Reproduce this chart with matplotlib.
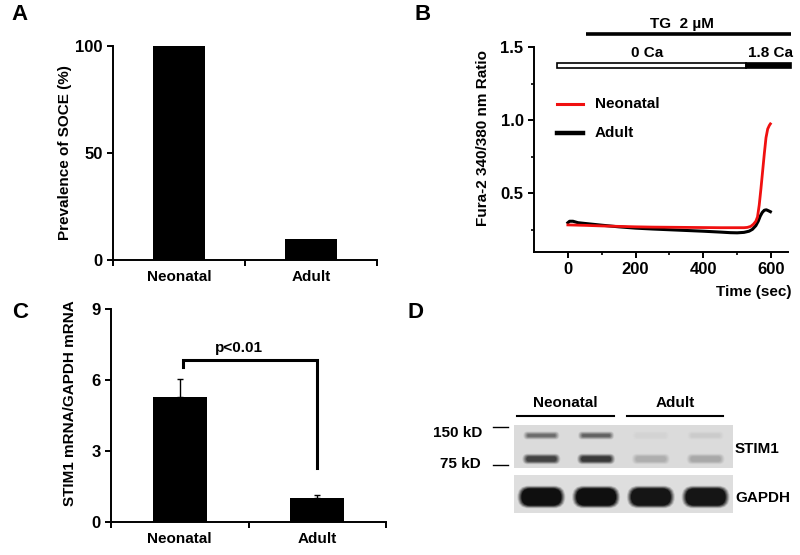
import numpy as np
import matplotlib
matplotlib.use('Agg')
from matplotlib import pyplot as plt
from matplotlib.patches import Rectangle, FancyBboxPatch

# panel A
groups = ['Neonatal', 'Adult']
soce_prev = [100, 10]

# panel B, Fura-2 ratio traces
t_neo = [0, 50, 100, 150, 200, 250, 300, 350, 400, 450, 500, 520, 530, 540, 548, 555,
         560, 565, 570, 575, 580, 585, 590, 595, 598]
ratio_neo = [0.285, 0.282, 0.278, 0.275, 0.272, 0.270, 0.269, 0.268, 0.267, 0.266, 0.266,
             0.266, 0.268, 0.275, 0.29, 0.31, 0.34, 0.42, 0.53, 0.65, 0.77, 0.88, 0.94, 0.965, 0.975]
t_adult = [0, 5, 15, 30, 50, 100, 150, 200, 250, 300, 350, 400, 450, 480, 500, 520, 535,
           545, 555, 562, 568, 574, 580, 586, 592, 598]
ratio_adult = [0.30, 0.31, 0.31, 0.30, 0.295, 0.283, 0.272, 0.263, 0.257, 0.252, 0.247, 0.242,
               0.236, 0.232, 0.231, 0.234, 0.242, 0.255, 0.28, 0.31, 0.345, 0.37, 0.385,
               0.388, 0.382, 0.375]

# panel C
stim1_mrna = [5.3, 1.0]
stim1_err = [0.75, 0.15]

# panel D, band darkness per lane (0 = none, 1 = saturated)
lane_groups = ['Neonatal', 'Neonatal', 'Adult', 'Adult']
stim1_150 = [0.55, 0.6, 0.04, 0.08]
stim1_75 = [0.75, 0.8, 0.22, 0.25]
gapdh = [1.0, 1.0, 0.97, 0.97]

plt.rcParams['font.family'] = ['Liberation Sans', 'DejaVu Sans']
plt.rcParams['font.weight'] = 'bold'
plt.rcParams['axes.labelweight'] = 'bold'
plt.rcParams['axes.linewidth'] = 1.4

W, H = 800, 555
FS = 11      # general text
TFS = 12     # numeric tick labels
fig = plt.figure(figsize=(8, 5.55), dpi=100)


def px_rect(l, t, r, b):
    return [l / W, 1 - b / H, (r - l) / W, (b - t) / H]


def style_bar_axes(ax):
    for s in ['top', 'right']:
        ax.spines[s].set_visible(False)
    ax.set_xlim(0, 2)
    ax.set_xticks([0, 1, 2])
    ax.set_xticklabels([])
    ax.set_xticks([0.5, 1.5], minor=True)
    ax.set_xticklabels(groups, minor=True)
    ax.tick_params(axis='x', which='major', direction='out', length=4, width=1.4)
    ax.tick_params(axis='x', which='minor', length=0, pad=7, labelsize=FS)
    ax.tick_params(axis='y', direction='out', length=4, width=1.4, labelsize=TFS)


# ---- A ----
axA = fig.add_axes(px_rect(113, 46, 377, 260))
axA.bar([0.5, 1.5], soce_prev, width=0.4, color='black')
style_bar_axes(axA)
axA.set_ylim(0, 100)
axA.set_yticks([0, 50, 100])
axA.set_ylabel('Prevalence of SOCE (%)', fontsize=FS)
axA.yaxis.set_label_coords(-0.155, 0.5)

# ---- B ----
axB = fig.add_axes(px_rect(534, 47, 788, 252))
for s in ['top', 'right']:
    axB.spines[s].set_visible(False)
axB.plot(t_adult, ratio_adult, color='black', lw=2.2)
axB.plot(t_neo, ratio_neo, color='#f01010', lw=2.0)
axB.set_xlim(-100, 650)
axB.set_ylim(0.1, 1.5)
axB.set_xticks([0, 200, 400, 600])
axB.set_xticks([100, 300, 500], minor=True)
axB.set_yticks([0.5, 1.0, 1.5])
axB.set_yticks([0.25, 0.75, 1.25], minor=True)
axB.tick_params(which='major', direction='out', length=4, width=1.4, labelsize=TFS)
axB.tick_params(which='minor', direction='out', length=2.5, width=1.2)
axB.set_ylabel('Fura-2 340/380 nm Ratio', fontsize=FS)
axB.yaxis.set_label_coords(-0.175, 0.556)
fig.text(792 / W, 1 - 292 / H, 'Time (sec)', ha='right', va='center', fontsize=FS)

# legend drawn by hand
axB.plot([-33, 44], [1.11, 1.11], color='#f01010', lw=2.2, clip_on=False)
axB.plot([-33, 44], [0.91, 0.91], color='black', lw=3.2, clip_on=False)
axB.text(80, 1.11, 'Neonatal', va='center', fontsize=FS)
axB.text(80, 0.91, 'Adult', va='center', fontsize=FS)

# treatment bars
axB.plot([53, 658], [1.589, 1.589], color='black', lw=2.6, clip_on=False, solid_capstyle='butt')
axB.text(338, 1.66, 'TG  2 \u00b5M', ha='center', va='center', fontsize=FS)
axB.text(234, 1.46, '0 Ca', ha='center', va='center', fontsize=FS)
axB.text(598, 1.46, '1.8 Ca', ha='center', va='center', fontsize=FS)
axB.add_patch(Rectangle((-33, 1.357), 560, 0.033, facecolor='white', edgecolor='black',
                        lw=1.2, clip_on=False))
axB.add_patch(Rectangle((527, 1.357), 131, 0.033, facecolor='black', edgecolor='black',
                        lw=1.2, clip_on=False))

# ---- C ----
axC = fig.add_axes(px_rect(111, 309, 386, 522))
axC.bar([0.5, 1.5], stim1_mrna, width=0.39, color='black')
axC.errorbar([0.5, 1.5], stim1_mrna, yerr=[[0, 0], stim1_err], fmt='none', ecolor='black',
             elinewidth=1.0, capsize=2.5, capthick=1.0)
style_bar_axes(axC)
axC.set_ylim(0, 9)
axC.set_yticks([0, 3, 6, 9])
axC.set_ylabel('STIM1 mRNA/GAPDH mRNA', fontsize=FS)
axC.yaxis.set_label_coords(-0.124, 0.556)
axC.plot([0.52, 0.52, 1.5, 1.5], [6.55, 6.85, 6.85, 2.28], color='black', lw=2.2,
         solid_joinstyle='miter')
axC.text(0.93, 7.35, 'p<0.01', ha='center', va='center', fontsize=FS)

# ---- D (western blot, drawn in pixel units) ----
axD = fig.add_axes(px_rect(400, 290, 800, 555))
axD.set_xlim(400, 800)
axD.set_ylim(555, 290)
axD.axis('off')

strip_l, strip_r = 514, 733
lane_w = (strip_r - strip_l) / len(lane_groups)
lane_x = strip_l + lane_w * (np.arange(len(lane_groups)) + 0.5)
bg = 0.86

axD.add_patch(Rectangle((strip_l, 425), strip_r - strip_l, 43, color=str(bg), lw=0))
axD.add_patch(Rectangle((strip_l, 475), strip_r - strip_l, 38, color=str(bg + 0.01), lw=0))


def band(x, y, w, h, dark):
    if dark <= 0:
        return
    g = bg - dark * (bg - 0.06)
    for grow, a in [(4, 0.15), (3, 0.25), (2, 0.35), (1, 0.5), (0, 1.0)]:
        ww, hh = w + grow * 2, h + grow * 1.4
        axD.add_patch(FancyBboxPatch((x - ww / 2, y - hh / 2), ww, hh,
                                     boxstyle='round,pad=0,rounding_size=%f' % (hh / 2),
                                     facecolor=str(g), edgecolor='none', alpha=a))


for i, x in enumerate(lane_x):
    band(x, 435.5, 28, 2.5, stim1_150[i])
    band(x, 459, 30, 5, stim1_75[i])
    band(x, 497, 40, 17, gapdh[i])

# group labels and underlines
for name in ['Neonatal', 'Adult']:
    xs = [lane_x[i] for i in range(len(lane_groups)) if lane_groups[i] == name]
    l, r = min(xs) - lane_w / 2 + 3, max(xs) + lane_w / 2 - 10
    axD.plot([l, r], [416, 416], color='black', lw=1.5)
    axD.text((l + r) / 2, 403, name, ha='center', va='center', fontsize=FS)

axD.plot([493, 508], [427, 427], color='black', lw=1.0)
axD.plot([493, 508], [465, 465], color='black', lw=1.0)
axD.text(482, 433, '150 kD', ha='right', va='center', fontsize=FS)
axD.text(481, 464, '75 kD', ha='right', va='center', fontsize=FS)
axD.text(735, 449, 'STIM1', ha='left', va='center', fontsize=FS)
axD.text(735, 498, 'GAPDH', ha='left', va='center', fontsize=FS)

# panel letters
for lab, x, y in [('A', 20, 15), ('B', 423, 15), ('C', 20, 313), ('D', 415, 313)]:
    fig.text(x / W, 1 - y / H, lab, ha='center', va='center', fontsize=16)

fig.savefig('out.png', dpi=100)
